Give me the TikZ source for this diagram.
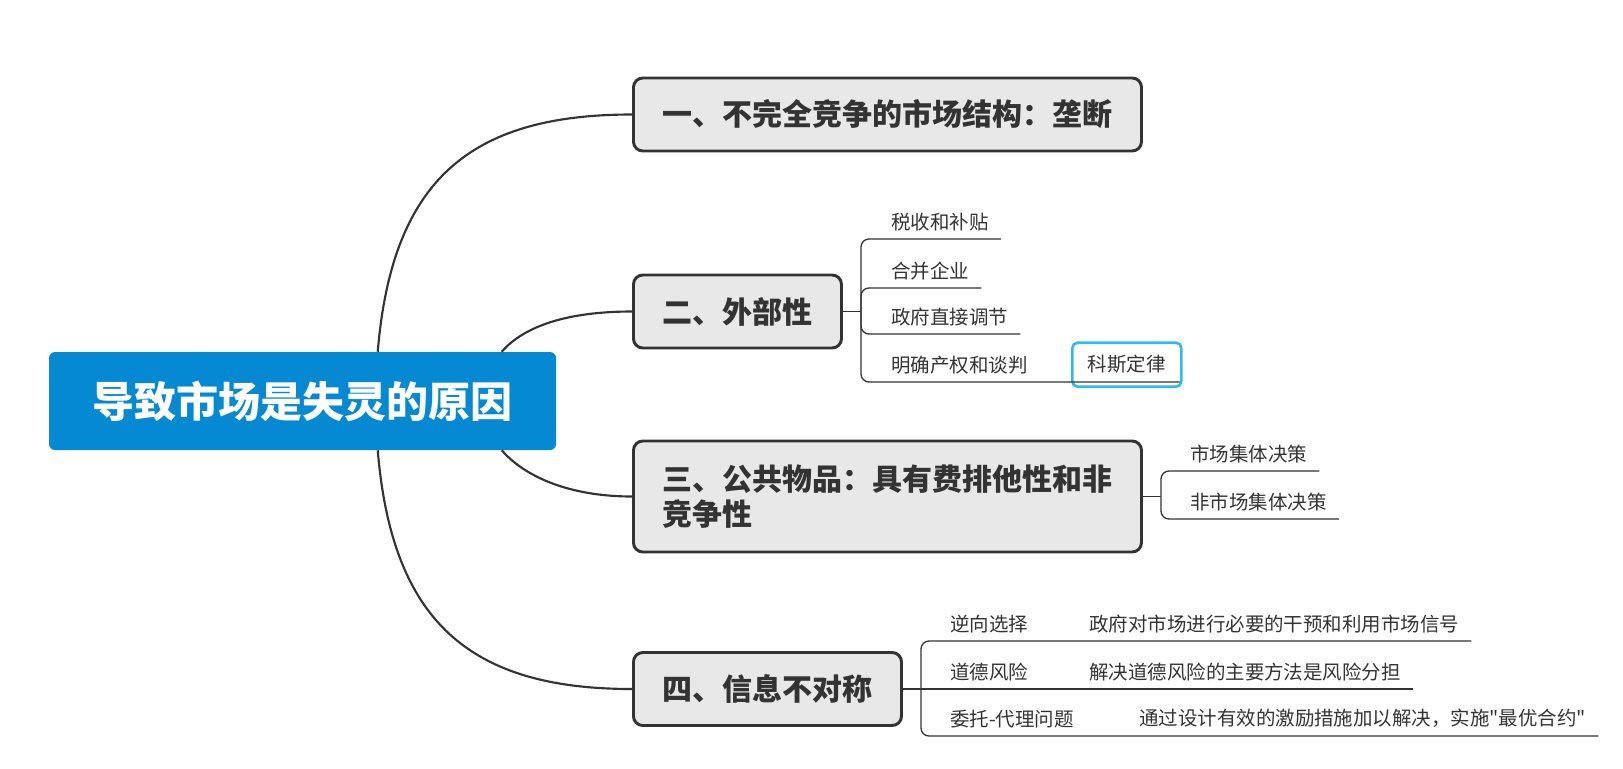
\documentclass[tikz,border=0pt]{standalone}
\usepackage{fontspec}
\setmainfont{Noto Sans CJK SC}
\newfontfamily\quotefont{Noto Sans CJK SC}[Ligatures=ResetAll]
\usetikzlibrary{calc}
\definecolor{rootblue}{HTML}{0589D2}
\definecolor{boxgray}{HTML}{E8E8E8}
\definecolor{inkgray}{HTML}{333333}
\definecolor{kblue}{HTML}{30BAF4}

\begin{document}
\begin{tikzpicture}[x=0.75pt,y=-0.75pt,
    root/.style={fill=rootblue,rounded corners=4.5pt,text=white,
      font=\fontsize{31.5}{36}\selectfont\bfseries,
      minimum width=380.25pt,minimum height=73.5pt},
    topic/.style={draw=inkgray,fill=boxgray,line width=2.2pt,rounded corners=7pt,
      text=inkgray,font=\fontsize{22.5}{26.25}\selectfont\bfseries,
      inner xsep=21.75pt,minimum height=54.75pt,anchor=west,align=left},
    leaf/.style={text=inkgray,font=\fontsize{14.6}{17}\selectfont,
      inner xsep=9pt,inner ysep=6pt,anchor=south west},
    coase/.style={draw=kblue,line width=2pt,rounded corners=4pt,
      text=inkgray,font=\fontsize{14.6}{17}\selectfont,
      minimum width=81.75pt,minimum height=33pt,anchor=south west},
    curve/.style={draw=inkgray,line width=1.6pt},
    twig/.style={draw=inkgray,line width=1pt,rounded corners=6pt}]
  \useasboundingbox (0,0) rectangle (1623,768);

  \node[root] (root) at (302.5,401) {导致市场是失灵的原因};

  \node[topic] (n1) at (632,114.5) {一、不完全竞争的市场结构：垄断};
  \node[topic] (n2) at (632,311.5) {二、外部性};
  \node[topic,minimum height=83.25pt] (n3) at (632,496.5) {三、公共物品：具有费排他性和非\\竞争性};
  \node[topic] (n4) at (632,689) {四、信息不对称};

  % main branches
  \draw[curve] ($(root.north west)+(329,0)$) .. controls (392,180) and (470,114.5) .. (n1.west);
  \draw[curve] ($(root.north west)+(453,0)$) .. controls (525,325) and (570,311.5) .. (n2.west);
  \draw[curve] ($(root.south west)+(453,0)$) .. controls (525,477) and (570,496.5) .. (n3.west);
  \draw[curve] ($(root.south west)+(329,0)$) .. controls (392,622) and (470,689) .. (n4.west);

  % externalities
  \coordinate (b2) at (861,311.5);
  \node[leaf] (l21) at (879,239) {税收和补贴};
  \node[leaf] (l22) at (879,288) {合并企业};
  \node[leaf] (l23) at (879,334) {政府直接调节};
  \node[leaf] (l24) at (879,382) {明确产权和谈判};
  \node[coase] (k) at (1071,388) {科斯定律};
  \draw[twig] (n2.east) -- (b2);
  \draw[twig] (b2) |- (l21.south east);
  \draw[twig] (b2) |- (l22.south east);
  \draw[twig] (b2) |- (l23.south east);
  \draw[twig] (b2) |- (l24.south east) -- ($(k.south east)+(-3,-6)$);

  % public goods
  \coordinate (b3) at (1161,496.5);
  \node[leaf] (l31) at (1178,471) {市场集体决策};
  \node[leaf] (l32) at (1178,519) {非市场集体决策};
  \draw[twig] (n3.east) -- (b3);
  \draw[twig] (b3) |- (l31.south east);
  \draw[twig] (b3) |- (l32.south east);

  % asymmetric information
  \coordinate (b4) at (921,689);
  \node[leaf] (l41) at (938,641) {逆向选择};
  \node[leaf] (l42) at (938,689) {道德风险};
  \node[leaf] (l43) at (938,736) {委托-代理问题};
  \node[leaf] (a41) at (1077,641) {政府对市场进行必要的干预和利用市场信号};
  \node[leaf] (a42) at (1077,689) {解决道德风险的主要方法是风险分担};
  \node[leaf] (a43) at (1127,736) {通过设计有效的激励措施加以解决，实施{\quotefont"}最优合约{\quotefont"}};
  \draw[twig] (n4.east) -- (b4);
  \draw[twig] (b4) |- (l41.south east) -- (a41.south east);
  \draw[twig] (b4) -- (l42.south east) -- (a42.south east);
  \draw[twig] (b4) |- (l43.south east) -- (a43.south east);
\end{tikzpicture}
\end{document}
